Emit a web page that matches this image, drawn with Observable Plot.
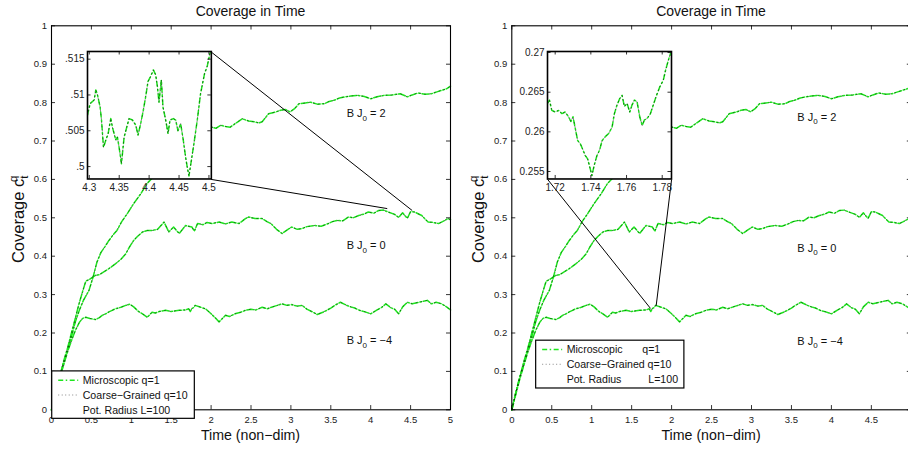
<!DOCTYPE html>
<html>
<head>
<meta charset="utf-8">
<script src="https://cdn.jsdelivr.net/npm/d3@7"></script>
<script src="https://cdn.jsdelivr.net/npm/@observablehq/plot@0.6"></script>
<style>
  html, body { margin: 0; padding: 0; background: #fff; overflow: hidden; width: 908px; height: 451px; }
  #root { position: relative; width: 908px; height: 451px; overflow: hidden; }
</style>
</head>
<body>
<div id="root"></div>
<script>
// ---------------- DATA ----------------
const xTicks = [0, 0.5, 1, 1.5, 2, 2.5, 3, 3.5, 4, 4.5, 5];
const xTickLabels = ["0", "0.5", "1", "1.5", "2", "2.5", "3", "3.5", "4", "4.5", "5"];
const yTicks = [0, 0.1, 0.2, 0.3, 0.4, 0.5, 0.6, 0.7, 0.8, 0.9, 1];
const yTickLabels = ["0", "0.1", "0.2", "0.3", "0.4", "0.5", "0.6", "0.7", "0.8", "0.9", "1"];

// B J0 = 2 (top curve)
const tTop = [0,0.05,0.1,0.15,0.2,0.25,0.3,0.35,0.4,0.47,0.52,0.57,0.62,0.67,0.72,0.77,0.82,0.88,0.95,1.03,1.12,1.2,1.27,1.4,1.55,1.7,1.85,2.01,2.06,2.12,2.18,2.24,2.3,2.39,2.47,2.54,2.6,2.64,2.72,2.8,2.87,2.93,2.99,3.05,3.1,3.18,3.25,3.33,3.42,3.48,3.54,3.61,3.68,3.75,3.83,3.92,4.0,4.08,4.17,4.27,4.37,4.46,4.52,4.59,4.68,4.76,4.83,4.89,4.95,5.0];
const microTop = [0,0.045,0.085,0.12,0.155,0.19,0.23,0.26,0.285,0.311,0.345,0.385,0.41,0.425,0.441,0.455,0.467,0.49,0.511,0.537,0.563,0.59,0.605,0.635,0.67,0.7,0.72,0.736,0.733,0.741,0.738,0.736,0.745,0.758,0.752,0.75,0.747,0.75,0.771,0.775,0.78,0.782,0.776,0.785,0.797,0.799,0.801,0.796,0.797,0.803,0.806,0.812,0.815,0.817,0.819,0.816,0.81,0.815,0.819,0.82,0.823,0.815,0.82,0.825,0.822,0.823,0.828,0.832,0.836,0.843];
// B J0 = 0 (middle curve)
const tMid = [0,0.05,0.1,0.15,0.2,0.25,0.3,0.35,0.4,0.43,0.48,0.55,0.6,0.66,0.7,0.75,0.8,0.87,0.93,0.98,1.03,1.08,1.14,1.2,1.26,1.33,1.41,1.47,1.53,1.6,1.68,1.76,1.79,1.83,1.9,1.95,2.01,2.1,2.18,2.26,2.35,2.43,2.47,2.55,2.64,2.7,2.75,2.82,2.89,2.95,3.01,3.08,3.14,3.2,3.3,3.38,3.47,3.52,3.58,3.65,3.72,3.78,3.85,3.92,3.97,4.04,4.1,4.16,4.22,4.3,4.35,4.4,4.43,4.46,4.5,4.55,4.6,4.64,4.68,4.72,4.78,4.85,4.9,4.97,5.0];
const microMid = [0,0.045,0.085,0.125,0.16,0.2,0.24,0.28,0.315,0.335,0.34,0.35,0.352,0.36,0.365,0.372,0.38,0.392,0.406,0.425,0.441,0.452,0.463,0.467,0.467,0.47,0.489,0.463,0.476,0.459,0.48,0.476,0.465,0.485,0.482,0.488,0.485,0.489,0.484,0.489,0.485,0.498,0.502,0.498,0.498,0.49,0.485,0.47,0.459,0.468,0.476,0.47,0.472,0.477,0.48,0.478,0.485,0.49,0.493,0.492,0.502,0.5,0.506,0.51,0.515,0.512,0.519,0.52,0.515,0.509,0.501,0.513,0.505,0.499,0.516,0.515,0.51,0.506,0.497,0.489,0.488,0.485,0.49,0.498,0.495];
// B J0 = -4 (bottom curve)
const tLow = [0,0.05,0.1,0.15,0.2,0.25,0.3,0.35,0.39,0.43,0.48,0.55,0.6,0.635,0.68,0.72,0.76,0.8,0.87,0.93,0.98,1.03,1.09,1.14,1.2,1.26,1.3,1.35,1.43,1.5,1.6,1.68,1.72,1.74,1.76,1.78,1.8,1.87,1.93,2.0,2.05,2.1,2.18,2.23,2.3,2.37,2.43,2.5,2.56,2.64,2.7,2.8,2.89,2.95,3.01,3.08,3.14,3.2,3.27,3.33,3.4,3.45,3.5,3.55,3.62,3.7,3.75,3.8,3.86,3.93,4.0,4.08,4.14,4.19,4.25,4.3,4.35,4.4,4.46,4.52,4.6,4.71,4.76,4.82,4.89,4.95,5.0];
const microLow = [0,0.04,0.08,0.115,0.15,0.18,0.207,0.228,0.238,0.241,0.238,0.235,0.24,0.246,0.25,0.255,0.259,0.263,0.267,0.272,0.275,0.268,0.256,0.25,0.241,0.254,0.252,0.256,0.259,0.256,0.259,0.26,0.263,0.256,0.264,0.266,0.272,0.267,0.263,0.25,0.24,0.229,0.246,0.243,0.25,0.254,0.259,0.262,0.26,0.267,0.263,0.27,0.276,0.272,0.274,0.27,0.272,0.262,0.255,0.248,0.254,0.259,0.265,0.272,0.28,0.272,0.268,0.265,0.259,0.255,0.25,0.26,0.267,0.276,0.266,0.262,0.25,0.268,0.28,0.276,0.28,0.285,0.276,0.28,0.276,0.268,0.26];
// Coarse-grained curves lie on top of the microscopic ones (indistinguishable in the picture)
const coarseTop = [...microTop];
const coarseMid = [...microMid];
const coarseLow = [...microLow];

// Left inset: zoom of B J0 = 0 curve
const insetLeftT = [4.297,4.3014,4.3081,4.3109,4.3137,4.3181,4.3204,4.3237,4.3276,4.3315,4.3359,4.3387,4.3443,4.347,4.3498,4.3537,4.3582,4.3626,4.3665,4.3721,4.3776,4.3815,4.3859,4.3904,4.3943,4.3982,4.4026,4.4071,4.411,4.4138,4.4165,4.4204,4.4232,4.4277,4.4316,4.4349,4.4405,4.4444,4.4482,4.4527,4.4571,4.461,4.4638,4.4666,4.4705,4.4749,4.4805,4.486,4.4927,4.4971,4.5016,4.5038];
const insetLeftC = [0.5072,0.5088,0.5093,0.5107,0.51,0.5083,0.5065,0.5027,0.5037,0.5046,0.5067,0.5055,0.5037,0.5041,0.5027,0.5004,0.5041,0.5055,0.5067,0.5065,0.5058,0.5044,0.506,0.5079,0.5098,0.5119,0.5126,0.5135,0.5128,0.5112,0.509,0.5121,0.5083,0.5065,0.5046,0.5065,0.5067,0.5065,0.505,0.506,0.5037,0.5013,0.4999,0.4987,0.5008,0.5032,0.5065,0.5102,0.513,0.514,0.5158,0.516];
const insetLeftXTicks = [4.3, 4.35, 4.4, 4.45, 4.5];
const insetLeftXLabels = ["4.3", "4.35", "4.4", "4.45", "4.5"];
const insetLeftYTicks = [0.5, 0.505, 0.51, 0.515];
const insetLeftYLabels = [".5", ".505", ".51", ".515"];
const insetLeftXDomain = [4.297, 4.504];
const insetLeftYDomain = [0.49827, 0.51607];

// Right inset: zoom of B J0 = -4 curve
const insetRightT = [1.7157,1.7168,1.7181,1.72,1.7219,1.7238,1.7256,1.7275,1.7288,1.73,1.7313,1.7326,1.7341,1.7356,1.7369,1.7382,1.7397,1.7406,1.7419,1.7434,1.7449,1.7463,1.7481,1.75,1.7519,1.7532,1.7547,1.7562,1.7575,1.7588,1.7603,1.7618,1.7631,1.7644,1.7659,1.7674,1.7688,1.77,1.7716,1.7734,1.7753,1.7768,1.7787,1.7806,1.7819,1.7838,1.7847];
const insetRightC = [0.2636,0.264,0.2627,0.2625,0.2627,0.2623,0.2625,0.2619,0.2613,0.2619,0.2604,0.2589,0.2585,0.2577,0.257,0.2566,0.2553,0.2545,0.2558,0.257,0.2577,0.2589,0.2594,0.2598,0.2606,0.2623,0.2634,0.2642,0.2646,0.2632,0.2636,0.2625,0.2634,0.264,0.2638,0.2619,0.2608,0.2615,0.2617,0.2623,0.2636,0.2646,0.2657,0.2665,0.2678,0.2693,0.2699];
const insetRightXTicks = [1.72, 1.74, 1.76, 1.78];
const insetRightXLabels = ["1.72", "1.74", "1.76", "1.78"];
const insetRightYTicks = [0.255, 0.26, 0.265, 0.27];
const insetRightYLabels = ["0.255", "0.26", "0.265", "0.27"];
const insetRightXDomain = [1.7157, 1.7852];
const insetRightYDomain = [0.25406, 0.27013];

// Inset placement in main data coordinates [t0, t1] x [c0, c1]
const insetBoxT = [0.448, 2.0];
const insetBoxC = [0.6, 0.932];

// Connector lines (main data coordinates)
const linksLeft = [
  {x1: 2.0, y1: 0.932, x2: 4.52, y2: 0.519},
  {x1: 2.0, y1: 0.6, x2: 4.207, y2: 0.524}
];
const linksRight = [
  {x1: 0.448, y1: 0.6, x2: 1.736, y2: 0.264},
  {x1: 2.0, y1: 0.6, x2: 1.807, y2: 0.271}
];

// Curve annotations
const annotValues = ["2", "0", "\u22124"];
const annotLeftT = 3.705, annotLeftC = [0.76, 0.417, 0.17];
const annotRightT = 3.58, annotRightC = [0.752, 0.41, 0.168];

// Legend
const legendNames = ["Microscopic", "Coarse\u2212Grained", "Pot. Radius"];
const legendParams = ["q=1", "q=10", "L=100"];
const legendLeftBox = {t0: 0.009, c0: 0.1, t1: 1.796, c1: -0.0235};
const legendRightBox = {t0: 0.305, c0: 0.18, t1: 2.16, c1: 0.0555};

const titleText = "Coverage in Time";
const xLabelText = "Time (non\u2212dim)";

// ---------------- STYLE ----------------
const FONT = "'Liberation Sans', Arial, Helvetica, sans-serif";
const GREEN = "#1ee61e";
const MICRO_DASH = "7,2,1.5,2";
const COARSE_DASH = "1,4";

const root = document.getElementById("root");

function zip(t, c) {
  const n = Math.min(t.length, c.length);
  return d3.range(n).map(i => ({t: t[i], c: c[i]}));
}
const microCurves = [zip(tTop, microTop), zip(tMid, microMid), zip(tLow, microLow)];
const coarseCurves = [zip(tTop, coarseTop), zip(tMid, coarseMid), zip(tLow, coarseLow)];

function baseStyle(fs) {
  return {fontFamily: FONT, fontSize: fs, color: "#222", background: "transparent", overflow: "visible", maxWidth: "none"};
}

function drawInset(svgLeft, X, Y, cfg) {
  const bx0 = svgLeft + X(insetBoxT[0]), bx1 = svgLeft + X(insetBoxT[1]);
  const by0 = Y(insetBoxC[1]), by1 = Y(insetBoxC[0]);
  const bw = bx1 - bx0, bh = by1 - by0;
  const mL = 40, mR = 6, mT = 4, mB = 20;
  const [x0, x1] = cfg.xDomain, [y0, y1] = cfg.yDomain;
  const dx = (x1 - x0) * 3.5 / bw, dy = (y1 - y0) * 3.5 / bh;
  const data = zip(cfg.t, cfg.c);
  const p = Plot.plot({
    width: bw + mL + mR, height: bh + mT + mB,
    marginLeft: mL, marginRight: mR, marginTop: mT, marginBottom: mB,
    x: {domain: cfg.xDomain, axis: null},
    y: {domain: cfg.yDomain, axis: null},
    style: baseStyle("10px"),
    marks: [
      Plot.frame({fill: "white"}),
      Plot.line(data, {x: "t", y: "c", stroke: GREEN, strokeWidth: 1.5, strokeDasharray: "5,3,1.5,3", clip: true}),
      Plot.line(data, {x: "t", y: "c", stroke: "#000", strokeWidth: 0.8, strokeDasharray: "1,3", strokeOpacity: 0.6, clip: true}),
      Plot.ruleX(cfg.xTicks, {y1: y0, y2: y0 + dy, stroke: "#000", strokeWidth: 0.8}),
      Plot.ruleX(cfg.xTicks, {y1: y1, y2: y1 - dy, stroke: "#000", strokeWidth: 0.8}),
      Plot.ruleY(cfg.yTicks, {x1: x0, x2: x0 + dx, stroke: "#000", strokeWidth: 0.8}),
      Plot.ruleY(cfg.yTicks, {x1: x1, x2: x1 - dx, stroke: "#000", strokeWidth: 0.8}),
      Plot.axisX({ticks: cfg.xTicks, tickSize: 0, tickPadding: 4.5, tickFormat: d => cfg.xLabels[cfg.xTicks.indexOf(d)], label: null}),
      Plot.axisY({ticks: cfg.yTicks, tickSize: 0, tickPadding: 3, tickFormat: d => cfg.yLabels[cfg.yTicks.indexOf(d)], label: null}),
      Plot.frame({stroke: "#000", strokeWidth: 1.6})
    ]
  });
  p.style.position = "absolute";
  p.style.left = (bx0 - mL) + "px";
  p.style.top = (by0 - mT) + "px";
  root.appendChild(p);
}

function drawPanel(cfg) {
  const marks = [];
  microCurves.forEach(d => marks.push(Plot.line(d, {x: "t", y: "c", stroke: GREEN, strokeWidth: 1.5, strokeDasharray: MICRO_DASH})));
  coarseCurves.forEach(d => marks.push(Plot.line(d, {x: "t", y: "c", stroke: "#000", strokeWidth: 0.8, strokeDasharray: COARSE_DASH, strokeOpacity: 0.55})));
  marks.push(Plot.link(cfg.links, {x1: "x1", y1: "y1", x2: "x2", y2: "y2", stroke: "#000", strokeWidth: 1}));
  marks.push(Plot.ruleX(xTicks, {y1: 0, y2: 0.011, stroke: "#000", strokeWidth: 0.8}));
  marks.push(Plot.ruleX(xTicks, {y1: 1, y2: 0.989, stroke: "#000", strokeWidth: 0.8}));
  marks.push(Plot.ruleY(yTicks, {x1: 0, x2: 0.05, stroke: "#000", strokeWidth: 0.8}));
  marks.push(Plot.ruleY(yTicks, {x1: 5, x2: 4.95, stroke: "#000", strokeWidth: 0.8}));
  marks.push(Plot.axisX({ticks: xTicks, tickSize: 0, tickPadding: 6, tickFormat: d => xTickLabels[xTicks.indexOf(d)], label: null}));
  marks.push(Plot.axisY({ticks: yTicks, tickSize: 0, tickPadding: 4.5, tickFormat: d => yTickLabels[yTicks.indexOf(d)], label: null}));
  marks.push(Plot.frame({stroke: "#000", strokeWidth: 1.1}));

  const svg = Plot.plot({
    width: cfg.width, height: 451,
    marginLeft: cfg.marginLeft, marginRight: cfg.marginRight, marginTop: 25.3, marginBottom: 41.7,
    x: {domain: [0, 5], axis: null},
    y: {domain: [0, 1], axis: null},
    style: baseStyle("9.5px"),
    marks
  });
  svg.style.position = "absolute";
  svg.style.left = cfg.left + "px";
  svg.style.top = "0px";
  root.appendChild(svg);

  const xs = svg.scale("x"), ys = svg.scale("y");
  const X = v => xs.apply(v), Y = v => ys.apply(v);
  const g = d3.select(svg).append("g").attr("font-family", FONT).attr("fill", "#111").attr("text-anchor", "start");

  // title
  g.append("text").attr("x", X(2.5)).attr("y", 15.5).attr("text-anchor", "middle")
    .attr("font-size", 14).text(titleText);
  // x label
  g.append("text").attr("x", X(2.5)).attr("y", 440).attr("text-anchor", "middle")
    .attr("font-size", 14.2).text(xLabelText);
  // y label with sub/superscript
  const yl = g.append("text").attr("transform", `translate(${X(0) - 27.5},${(Y(0) + Y(1)) / 2 + 2}) rotate(-90)`)
    .attr("text-anchor", "middle").attr("font-size", 16.5);
  yl.append("tspan").text("Coverage c");
  yl.append("tspan").attr("font-size", 11.5).attr("dy", 4).text("t");
  yl.append("tspan").attr("font-size", 11.5).attr("dx", -6.5).attr("dy", -11).text("q");

  // curve annotations
  cfg.annotC.forEach((c, i) => {
    const t = g.append("text").attr("x", X(cfg.annotT)).attr("y", Y(c)).attr("font-size", 11).attr("text-anchor", "start");
    t.append("tspan").text("B J");
    t.append("tspan").attr("font-size", 8).attr("dy", 3.5).text("0");
    t.append("tspan").attr("dy", -3.5).text(" = " + annotValues[i]);
  });

  // legend
  const L = cfg.legend;
  const lx0 = X(L.box.t0), ly0 = Y(L.box.c0), lx1 = X(L.box.t1), ly1 = Y(L.box.c1);
  const lg = d3.select(svg).append("g").attr("font-family", FONT).attr("text-anchor", "start");
  lg.append("rect").attr("x", lx0).attr("y", ly0).attr("width", lx1 - lx0).attr("height", ly1 - ly0)
    .attr("fill", "white").attr("stroke", "#000").attr("stroke-width", 1.2);
  legendNames.forEach((name, i) => {
    const cy = ly0 + 9.3 + i * 14.8;
    if (i === 0) {
      lg.append("line").attr("x1", lx0 + 6.5).attr("x2", lx0 + 26.5).attr("y1", cy).attr("y2", cy)
        .attr("stroke", GREEN).attr("stroke-width", 1.5).attr("stroke-dasharray", "5,2.5,1.5,2.5");
    } else if (i === 1) {
      lg.append("line").attr("x1", lx0 + 6.5).attr("x2", lx0 + 26.5).attr("y1", cy).attr("y2", cy)
        .attr("stroke", "#000").attr("stroke-width", 0.8).attr("stroke-dasharray", "1,2.5").attr("stroke-opacity", 0.6);
    }
    const off = L.paramOffsets[i];
    if (off == null) {
      lg.append("text").attr("x", lx0 + 31).attr("y", cy + 3.8).attr("font-size", 10.6).attr("fill", "#111")
        .text(name + " " + legendParams[i]);
    } else {
      lg.append("text").attr("x", lx0 + 31).attr("y", cy + 3.8).attr("font-size", 10.6).attr("fill", "#111").text(name);
      lg.append("text").attr("x", lx0 + off).attr("y", cy + 3.8).attr("font-size", 10.6).attr("fill", "#111").text(legendParams[i]);
    }
  });

  drawInset(cfg.left, X, Y, cfg.inset);
}

drawPanel({
  left: 0, width: 454, marginLeft: 51, marginRight: 4,
  links: linksLeft, annotT: annotLeftT, annotC: annotLeftC,
  legend: {box: legendLeftBox, paramOffsets: [null, null, null]},
  inset: {t: insetLeftT, c: insetLeftC, xDomain: insetLeftXDomain, yDomain: insetLeftYDomain,
          xTicks: insetLeftXTicks, xLabels: insetLeftXLabels, yTicks: insetLeftYTicks, yLabels: insetLeftYLabels}
});
drawPanel({
  left: 454, width: 460, marginLeft: 57.3, marginRight: 3.2,
  links: linksRight, annotT: annotRightT, annotC: annotRightC,
  legend: {box: legendRightBox, paramOffsets: [106.6, null, 112.6]},
  inset: {t: insetRightT, c: insetRightC, xDomain: insetRightXDomain, yDomain: insetRightYDomain,
          xTicks: insetRightXTicks, xLabels: insetRightXLabels, yTicks: insetRightYTicks, yLabels: insetRightYLabels}
});
</script>
</body>
</html>
